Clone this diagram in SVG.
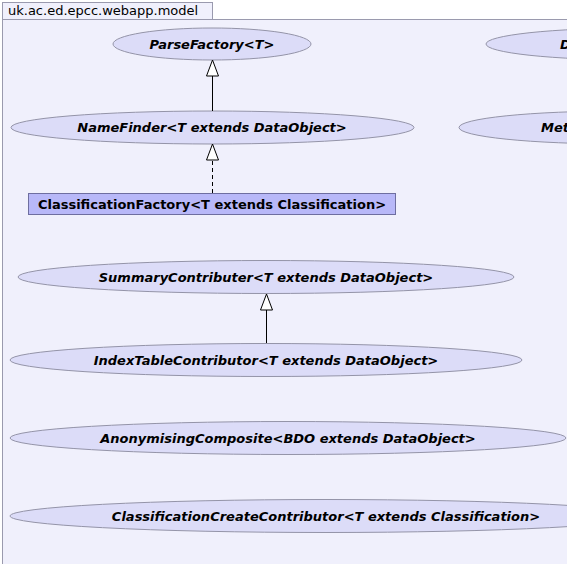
<svg xmlns="http://www.w3.org/2000/svg" width="567" height="564" viewBox="0 0 567 564">
<defs>
<style>
.pkg{fill:#f0f0fc;stroke:#9a9aae;stroke-width:1}
.iface{fill:#dcdcf8;stroke:#9494a8;stroke-width:1}
.cls{fill:#b8b8f8;stroke:#6e6ea0;stroke-width:1}
.it{font-family:"DejaVu Sans",sans-serif;font-size:13px;font-weight:bold;font-style:italic;fill:#000;text-anchor:middle}
.ct{font-family:"DejaVu Sans",sans-serif;font-size:13px;font-weight:bold;fill:#000;text-anchor:middle}
.tab{font-family:"DejaVu Sans",sans-serif;font-size:13px;fill:#000}
.edge{stroke:#000;stroke-width:1;fill:none}
.dash{stroke-dasharray:4,3}
.head{fill:#fff;stroke:#000;stroke-width:1}
</style>
</defs>
<rect width="567" height="564" fill="#ffffff"/>
<g id="package">
<rect class="pkg" x="2.5" y="2.5" width="210" height="17"/>
<rect class="pkg" x="2.5" y="19.5" width="600" height="600"/>
<text class="tab" x="8" y="15">uk.ac.ed.epcc.webapp.model</text>
</g>
<g id="ParseFactory">
<ellipse class="iface" cx="212" cy="44" rx="99" ry="16"/>
<text class="it" x="212" y="48.5">ParseFactory&lt;T&gt;</text>
</g>
<g id="D">
<ellipse class="iface" cx="636" cy="44" rx="150" ry="16"/>
<text class="it" x="560" y="48.5" style="text-anchor:start">D</text>
</g>
<g id="NameFinder">
<ellipse class="iface" cx="212.5" cy="127.5" rx="201.5" ry="16.5"/>
<text class="it" x="212" y="132">NameFinder&lt;T extends DataObject&gt;</text>
</g>
<g id="Met">
<ellipse class="iface" cx="620" cy="127.5" rx="161" ry="16.5"/>
<text class="it" x="541" y="132" style="text-anchor:start">Met</text>
</g>
<g id="ClassificationFactory">
<rect class="cls" x="28.5" y="193.5" width="367" height="21"/>
<text class="ct" x="212" y="209">ClassificationFactory&lt;T extends Classification&gt;</text>
</g>
<g id="SummaryContributer">
<ellipse class="iface" cx="266" cy="277" rx="248" ry="16.5"/>
<text class="it" x="266" y="281.5">SummaryContributer&lt;T extends DataObject&gt;</text>
</g>
<g id="IndexTableContributor">
<ellipse class="iface" cx="266" cy="360" rx="256" ry="16.5"/>
<text class="it" x="266" y="364.5">IndexTableContributor&lt;T extends DataObject&gt;</text>
</g>
<g id="AnonymisingComposite">
<ellipse class="iface" cx="288" cy="438" rx="278" ry="16.5"/>
<text class="it" x="288" y="442.5">AnonymisingComposite&lt;BDO extends DataObject&gt;</text>
</g>
<g id="ClassificationCreateContributor">
<ellipse class="iface" cx="326" cy="516" rx="316" ry="16.5"/>
<text class="it" x="326" y="520.5">ClassificationCreateContributor&lt;T extends Classification&gt;</text>
</g>
<g id="connectors">
<line class="edge" x1="212.5" y1="111" x2="212.5" y2="76"/>
<polygon class="head" points="212.5,60 206.5,76 218.5,76"/>
<line class="edge dash" x1="212.5" y1="193" x2="212.5" y2="160"/>
<polygon class="head" points="212.5,144 206.5,160 218.5,160"/>
<line class="edge" x1="266.5" y1="343" x2="266.5" y2="310"/>
<polygon class="head" points="266.5,294 260.5,310 272.5,310"/>
</g>
</svg>
